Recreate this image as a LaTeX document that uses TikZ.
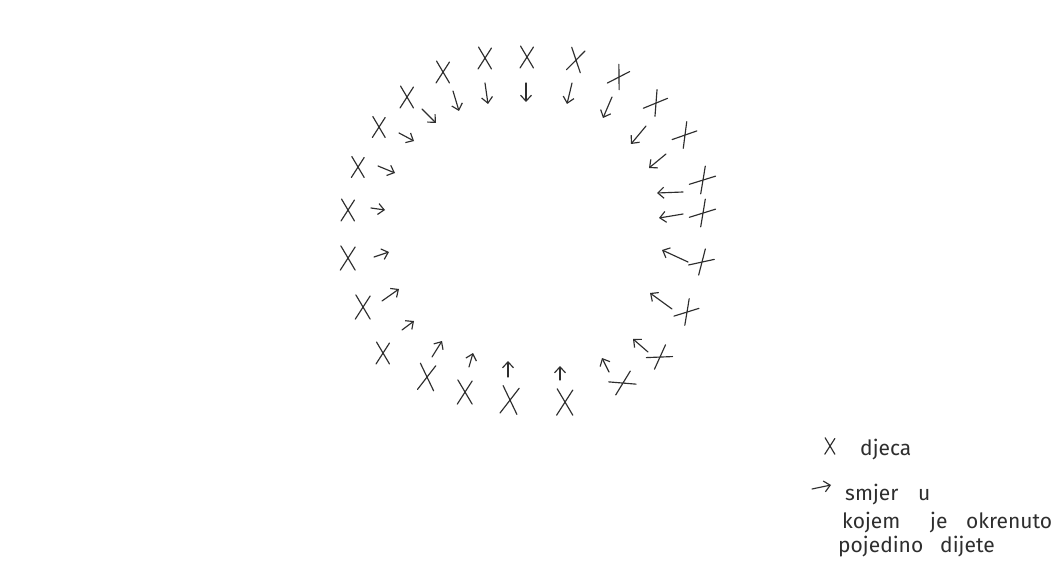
\documentclass[tikz,border=0pt]{standalone}
\usepackage{fontspec}
\setmainfont{Fira Sans}
\usetikzlibrary{arrows.meta}
\definecolor{inkc}{HTML}{2E2E2E}
\begin{document}
\begin{tikzpicture}[x=1pt,y=-1pt,
  ink/.style={draw=inkc, line width=1.15pt, line cap=round},
  dirarrow/.style={ink, -{Straight Barb[length=6pt,width=11pt,line width=1.15pt]}},
  lbl/.style={text=inkc, font=\fontsize{21}{21}\selectfont, inner sep=0pt, anchor=base west},
  kid/.pic={\draw[ink] (-6.5,-11) -- (6.5,11) (6.5,-10) -- (-7,11);}
]
\useasboundingbox[fill=white] (0,0) rectangle (1053,567);
% children (X)
\foreach \x/\y/\r/\s [count=\i] in {
  443/72/0/1, 485/58/0/1, 527/57/0/1, 576/60/-12/1.05, 619/77/-30/1, 656/103/-35/1.05,
  685/135/-38/1.05, 703/180/-40/1.1, 703/213/-40/1.1, 702/262/-45/1.05, 687/312/-40/1.05,
  660/357/-55/1.05, 623/383/-62/1.1, 565/402/0/1.2, 510/400/-5/1.25, 465/392/0/1.1,
  427/377/-5/1.2, 383/353/0/1, 363/307/0/1.1, 348/258/0/1.1, 348/210/0/1, 358/167/0/0.95,
  379/127/0/0.95, 407/97/0/1}
  { \pic (kid\i) at (\x,\y) [rotate=\r, scale=\s] {kid}; }
% facing directions
\foreach \xa/\ya/\xb/\yb [count=\i] in {
  371/208/385/210, 378/166/395/173, 399/133/414/141, 422/109/436/123,
  453/91/459/111, 485/83/488/104, 526/83/526/102, 572/83/567/104,
  612/97/603/118, 646/126/631/144, 666/154/649/168, 683/192/657/193,
  683/214/659/218, 688/262/662/250, 672/309/650/293, 648/352/633/339,
  609/372/602/358, 560/380/560/366, 508/377/508/361, 469/367/473/353,
  432/357/442/341, 402/330/414/321, 382/301/399/289, 374/257/389/252}
  { \coordinate (a\i) at (\xa,\ya); \coordinate (b\i) at (\xb,\yb);
    \draw[dirarrow] (a\i) -- (b\i); }
% legend
\pic (legx) at (830,446) [scale=0.75] {kid};
\node[lbl] (w1) at (860,455) {djeca};
\coordinate (la) at (812,489);
\coordinate (lb) at (831,485);
\draw[dirarrow] (la) -- (lb);
\node[lbl] (w2) at (845,500) {smjer};
\node[lbl] (w3) at (918,500) {u};
\node[lbl] (w4) at (842,528) {kojem};
\node[lbl] (w5) at (930,528) {je};
\node[lbl] (w6) at (966,528) {okrenuto};
\node[lbl] (w7) at (838,552) {pojedino};
\node[lbl] (w8) at (940,552) {dijete};
\end{tikzpicture}
\end{document}
